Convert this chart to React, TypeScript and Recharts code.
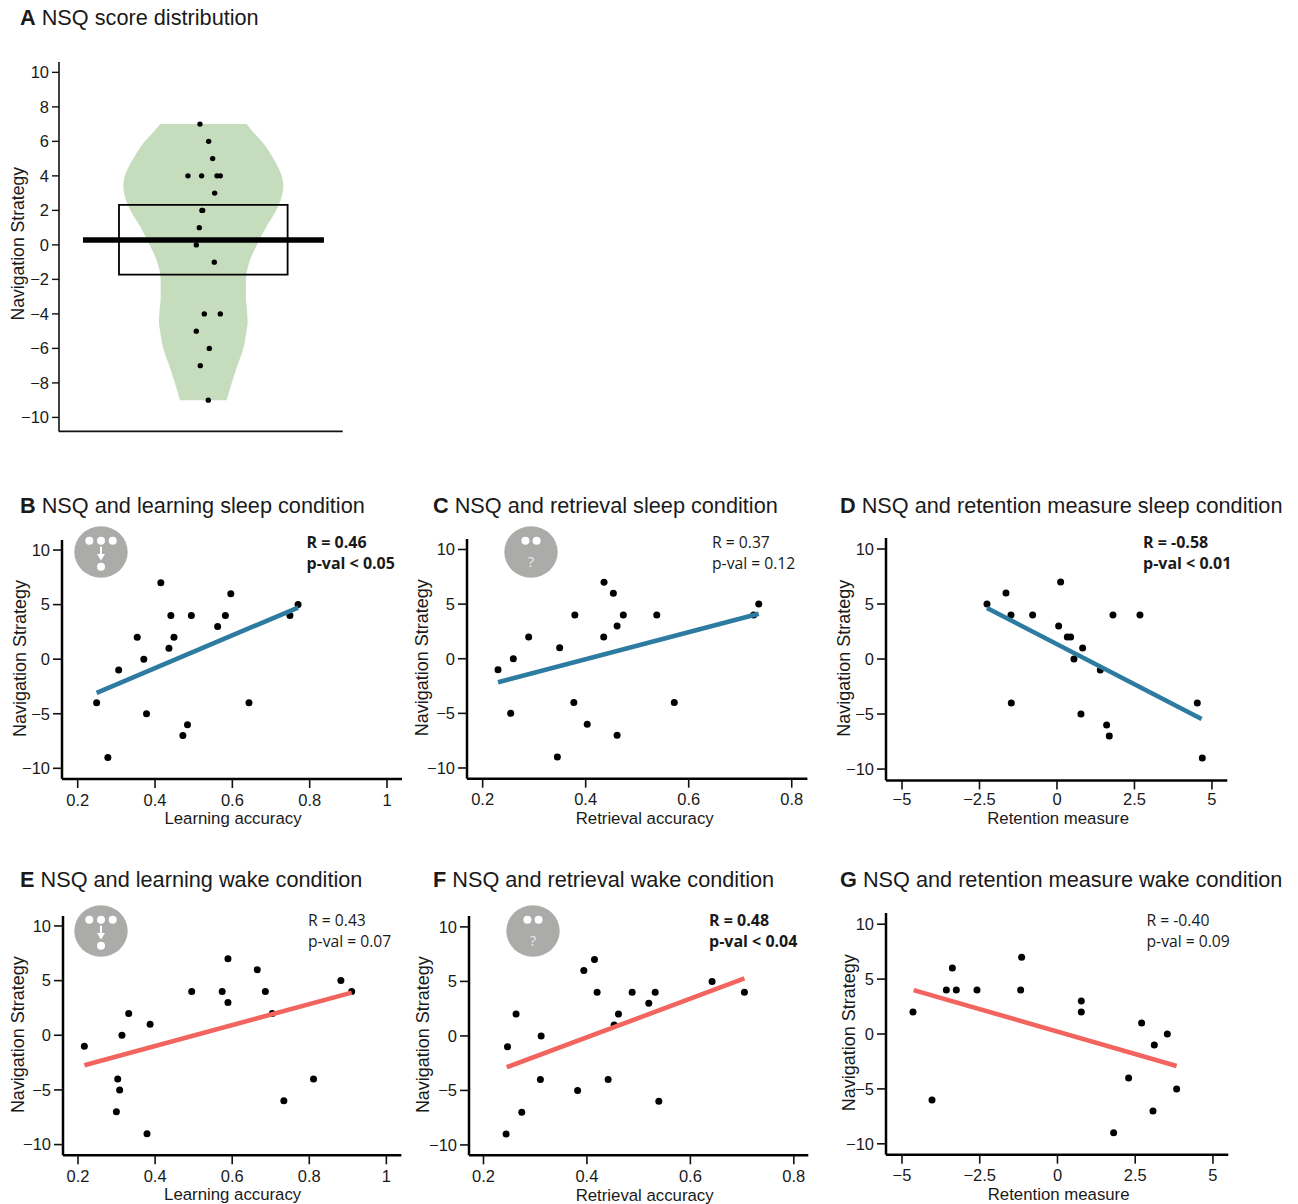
import React from "react";
import {
  ComposedChart,
  ScatterChart,
  Area,
  Scatter,
  XAxis,
  YAxis,
  ReferenceArea,
  ReferenceLine,
} from "recharts";

// panel A: violin outline, half width read at each score
const violinY = [7, 6.5, 6, 5, 4, 3.4, 3, 2, 1, 0, -1, -2, -3, -4, -4.5, -5, -6, -7, -8, -9];
const violinHalf = [0.54, 0.63, 0.73, 0.875, 0.98, 1.0, 0.99, 0.91, 0.78, 0.67, 0.575, 0.533, 0.533, 0.55, 0.554, 0.54, 0.5, 0.425, 0.355, 0.29];
const jitterX = [-0.042, 0.067, 0.117, -0.192, -0.021, 0.171, 0.2125, 0.142, -0.017, -0.008, -0.05, -0.0875, 0.1375, 0.0125, 0.2125, -0.0875, 0.075, -0.0375, 0.0625];
const jitterY = [7, 6, 5, 4, 4, 4, 4, 3, 2, 2, 1, 0, -1, -4, -4, -5, -6, -7, -9];
const boxX = [-1.054, 1.054];
const boxY = [-1.72, 2.32];
const meanX = [-1.504, 1.508];
const meanY = 0.29;

// correlation panels
const learnSleepX = [0.249, 0.278, 0.306, 0.354, 0.371, 0.378, 0.415, 0.436, 0.441, 0.449, 0.472, 0.484, 0.494, 0.562, 0.582, 0.596, 0.643, 0.749, 0.77];
const learnSleepY = [-4, -9, -1, 2, 0, -5, 7, 1, 4, 2, -7, -6, 4, 3, 4, 6, -4, 4, 5];
const learnSleepFitX = [0.249, 0.77];
const learnSleepFitY = [-3.08, 4.73];

const retrSleepX = [0.2298, 0.2595, 0.2544, 0.2893, 0.345, 0.3495, 0.377, 0.379, 0.403, 0.435, 0.4356, 0.4537, 0.461, 0.461, 0.473, 0.538, 0.572, 0.726, 0.736];
const retrSleepY = [-1, 0, -5, 2, -9, 1, -4, 4, -6, 2, 7, 6, 3, -7, 4, 4, -4, 4, 5];
const retrSleepFitX = [0.2298, 0.736];
const retrSleepFitY = [-2.16, 4.12];

const retenSleepX = [-2.258, -1.645, -1.484, -1.473, -0.785, 0.054, 0.118, 0.333, 0.441, 0.548, 0.774, 0.828, 1.398, 1.602, 1.688, 1.806, 2.677, 4.527, 4.688];
const retenSleepY = [5, 6, 4, -4, 4, 3, 7, 2, 2, 0, -5, 1, -1, -6, -7, 4, 4, -4, -9];
const retenSleepFitX = [-2.258, 4.667];
const retenSleepFitY = [4.64, -5.45];

const learnWakeX = [0.2164, 0.2995, 0.303, 0.308, 0.314, 0.3315, 0.379, 0.387, 0.495, 0.574, 0.589, 0.589, 0.665, 0.686, 0.704, 0.734, 0.811, 0.882, 0.91];
const learnWakeY = [-1, -7, -4, -5, 0, 2, -9, 1, 4, 4, 3, 7, 6, 4, 2, -6, -4, 5, 4];
const learnWakeFitX = [0.2164, 0.91];
const learnWakeFitY = [-2.74, 3.9];

const retrWakeX = [0.2438, 0.2464, 0.263, 0.274, 0.31, 0.3115, 0.382, 0.394, 0.4146, 0.4197, 0.441, 0.4526, 0.461, 0.4874, 0.5196, 0.532, 0.539, 0.642, 0.7045];
const retrWakeY = [-9, -1, 2, -7, -4, 0, -5, 6, 7, 4, -4, 1, 2, 4, 3, 4, -6, 5, 4];
const retrWakeFitX = [0.245, 0.7045];
const retrWakeFitY = [-2.87, 5.27];

const retenWakeX = [-4.646, -4.035, -3.574, -3.381, -3.253, -2.588, -1.184, -1.152, 0.766, 0.766, 1.806, 2.288, 2.706, 3.071, 3.114, 3.532, 3.832];
const retenWakeY = [2, -6, 4, 6, 4, 4, 4, 7, 3, 2, -9, -4, 1, -7, -1, 0, -5];
const retenWakeFitX = [-4.625, 3.832];
const retenWakeFitY = [4.0, -2.91];

const scoreTicksA = [-10, -8, -6, -4, -2, 0, 2, 4, 6, 8, 10];
const scoreTicks = [-10, -5, 0, 5, 10];
const learnTicks = [0.2, 0.4, 0.6, 0.8, 1];
const retrTicks = [0.2, 0.4, 0.6, 0.8];
const retenTicks = [-5, -2.5, 0, 2.5, 5];

const SANS = "'Liberation Sans', Arial, sans-serif";
const STAT_FONT = "'Open Sans', sans-serif";
const BLUE = "#2d7ba0";
const RED = "#f2655f";
const GREEN = "#c5ddbd";
const GREY = "#ababa9";

const zip = (xs: number[], ys: number[]) => xs.map((x, i) => ({ x, y: ys[i] }));
const minus = (v: number) => String(v).replace("-", "\u2212");

const violinData = violinY.map((y, i) => ({ y, range: [-violinHalf[i], violinHalf[i]] }));

const panels = [
  {
    key: "B", title: "NSQ and learning sleep condition", titleX: 20, titleY: 506,
    left: 62, right: 402, top: 540, bottom: 779, labelX: 19.5, xLabelDx: 1, xLabelDy: 14, tickGap: 6,
    xDomain: [0.1594, 1.0388], yDomain: [-10.98, 10.92], xTicks: learnTicks,
    xLabel: "Learning accuracy", pts: zip(learnSleepX, learnSleepY), fit: zip(learnSleepFitX, learnSleepFitY),
    color: BLUE, r: "R = 0.46", p: "p-val < 0.05", bold: true, statX: 306.5, statY: 541.5,
    icon: "arrow", iconX: 100.7, iconY: 552.3,
  },
  {
    key: "C", title: "NSQ and retrieval sleep condition", titleX: 433, titleY: 506,
    left: 467.3, right: 807.7, top: 539.3, bottom: 779, labelX: 421.5, xLabelDx: 7.5, xLabelDy: 14, tickGap: 6,
    xDomain: [0.1696, 0.8304], yDomain: [-10.98, 10.96], xTicks: retrTicks,
    xLabel: "Retrieval accuracy", pts: zip(retrSleepX, retrSleepY), fit: zip(retrSleepFitX, retrSleepFitY),
    color: BLUE, r: "R = 0.37", p: "p-val = 0.12", bold: false, statX: 712, statY: 541.5,
    icon: "question", iconX: 530.7, iconY: 552.3,
  },
  {
    key: "D", title: "NSQ and retention measure sleep condition", titleX: 840, titleY: 506,
    left: 886, right: 1227.3, top: 538.3, bottom: 780.7, labelX: 844, xLabelDx: 1.5, xLabelDy: 12.5, tickGap: 4,
    xDomain: [-5.516, 5.495], yDomain: [-11.03, 11.0], xTicks: retenTicks,
    xLabel: "Retention measure", pts: zip(retenSleepX, retenSleepY), fit: zip(retenSleepFitX, retenSleepFitY),
    color: BLUE, r: "R = -0.58", p: "p-val < 0.01", bold: true, statX: 1143, statY: 541.5,
  },
  {
    key: "E", title: "NSQ and learning wake condition", titleX: 20, titleY: 880,
    left: 63.3, right: 401.7, top: 915.7, bottom: 1155, labelX: 18, xLabelDx: 0.5, xLabelDy: 14, tickGap: 6,
    xDomain: [0.161, 1.039], yDomain: [-10.98, 10.91], xTicks: learnTicks,
    xLabel: "Learning accuracy", pts: zip(learnWakeX, learnWakeY), fit: zip(learnWakeFitX, learnWakeFitY),
    color: RED, r: "R = 0.43", p: "p-val = 0.07", bold: false, statX: 308, statY: 920,
    icon: "arrow", iconX: 100.7, iconY: 930.7,
  },
  {
    key: "F", title: "NSQ and retrieval wake condition", titleX: 433, titleY: 880,
    left: 469, right: 808.3, top: 915.7, bottom: 1155, labelX: 423, xLabelDx: 6, xLabelDy: 15, tickGap: 6,
    xDomain: [0.172, 0.828], yDomain: [-10.95, 11.0], xTicks: retrTicks,
    xLabel: "Retrieval accuracy", pts: zip(retrWakeX, retrWakeY), fit: zip(retrWakeFitX, retrWakeFitY),
    color: RED, r: "R = 0.48", p: "p-val < 0.04", bold: true, statX: 709, statY: 920,
    icon: "question", iconX: 533.3, iconY: 930.7,
  },
  {
    key: "G", title: "NSQ and retention measure wake condition", titleX: 840, titleY: 880,
    left: 886, right: 1228.3, top: 913.3, bottom: 1155, labelX: 849, xLabelDx: 1.5, xLabelDy: 14, tickGap: 6,
    xDomain: [-5.514, 5.493], yDomain: [-10.99, 11.02], xTicks: retenTicks,
    xLabel: "Retention measure", pts: zip(retenWakeX, retenWakeY), fit: zip(retenWakeFitX, retenWakeFitY),
    color: RED, r: "R = -0.40", p: "p-val = 0.09", bold: false, statX: 1146.5, statY: 920,
  },
];

function Title({ letter, text, x, y }: { letter: string; text: string; x: number; y: number }) {
  return (
    <div
      style={{
        position: "absolute",
        left: x,
        top: y - 14,
        height: 28,
        lineHeight: "28px",
        fontFamily: SANS,
        fontSize: 21.7,
        color: "#1a1a1a",
        whiteSpace: "nowrap",
      }}
    >
      <b>{letter}</b> {text}
    </div>
  );
}

function Stat({ r, p, bold, x, y }: { r: string; p: string; bold: boolean; x: number; y: number }) {
  const line = {
    position: "absolute" as const,
    left: x,
    height: 20,
    lineHeight: "20px",
    fontFamily: STAT_FONT,
    fontSize: bold ? 16 : 15.7,
    fontWeight: bold ? 700 : 400,
    color: "#1a1a1a",
    whiteSpace: "nowrap" as const,
  };
  return (
    <>
      <div style={{ ...line, top: y - 10 }}>{r}</div>
      <div style={{ ...line, top: y + 11 }}>{p}</div>
    </>
  );
}

function Icon({ kind, x, y }: { kind: string; x: number; y: number }) {
  return (
    <svg
      width={60}
      height={60}
      viewBox="-30 -30 60 60"
      style={{ position: "absolute", left: x - 30, top: y - 30 }}
    >
      <ellipse cx={0} cy={0} rx={26.7} ry={25.7} fill={GREY} />
      {kind === "arrow" ? (
        <g fill="#fff">
          <circle cx={-11.7} cy={-11.3} r={4} />
          <circle cx={0} cy={-11.3} r={4} />
          <circle cx={11.7} cy={-11.3} r={4} />
          <circle cx={0} cy={14.7} r={4} />
          <rect x={-1} y={-5.3} width={2} height={8} />
          <path d="M-4 2 L4 2 L0 8.4 Z" />
        </g>
      ) : (
        <g fill="#fff">
          <circle cx={-5.6} cy={-11.3} r={4} />
          <circle cx={5.6} cy={-11.3} r={4} />
          <text
            x={0}
            y={15}
            textAnchor="middle"
            fontFamily={STAT_FONT}
            fontSize={15}
            fill="#e8e8e8"
          >
            ?
          </text>
        </g>
      )}
    </svg>
  );
}

function ViolinPanel() {
  const axisLeft = 59;
  const axisRight = 342.7;
  const axisTop = 62.3;
  const axisBottom = 431.7;
  return (
    <div style={{ position: "absolute", left: axisLeft - 55, top: axisTop - 10 }}>
      <ComposedChart
        layout="vertical"
        width={axisRight - axisLeft + 65}
        height={axisBottom - axisTop + 30}
        margin={{ top: 10, right: 10, bottom: 0, left: 0 }}
      >
        <XAxis
          type="number"
          dataKey="x"
          domain={[-1.804, 1.7425]}
          allowDataOverflow
          ticks={[]}
          tick={false}
          tickLine={false}
          height={20}
          axisLine={{ stroke: "#111", strokeWidth: 1.6 }}
        />
        <YAxis
          type="number"
          dataKey="y"
          reversed
          domain={[-10.81, 10.6]}
          allowDataOverflow
          ticks={scoreTicksA}
          interval={0}
          width={55}
          tickSize={7}
          tickMargin={3}
          tickFormatter={minus}
          tick={{ fontFamily: SANS, fontSize: 16.5, fill: "#1a1a1a" }}
          tickLine={{ stroke: "#111", strokeWidth: 1.4 }}
          axisLine={{ stroke: "#111", strokeWidth: 1.6 }}
          label={{
            value: "Navigation Strategy",
            angle: -90,
            position: "center",
            dx: 18 - (axisLeft - 55) - 27.5,
            dy: -3,
            style: { fontFamily: SANS, fontSize: 17.6, fill: "#1a1a1a" },
          }}
        />
        <Area
          data={violinData}
          dataKey="range"
          type="monotone"
          stroke="none"
          fill={GREEN}
          fillOpacity={1}
          dot={false}
          activeDot={false}
          isAnimationActive={false}
        />
        <Scatter
          data={zip(jitterX, jitterY)}
          fill="#000"
          shape={(p: any) => <circle cx={p.cx} cy={p.cy} r={2.7} fill="#000" />}
          isAnimationActive={false}
        />
        <ReferenceArea
          x1={boxX[0]}
          x2={boxX[1]}
          y1={boxY[0]}
          y2={boxY[1]}
          fill="none"
          fillOpacity={0}
          stroke="#000"
          strokeWidth={1.8}
        />
        <ReferenceLine
          segment={[
            { x: meanX[0], y: meanY },
            { x: meanX[1], y: meanY },
          ]}
          stroke="#000"
          strokeWidth={5.5}
        />
      </ComposedChart>
    </div>
  );
}

function CorrPanel({ cfg }: { cfg: (typeof panels)[number] }) {
  const boxLeft = cfg.left - 60;
  return (
    <div style={{ position: "absolute", left: boxLeft, top: cfg.top - 10 }}>
      <ScatterChart
        width={cfg.right - cfg.left + 70}
        height={cfg.bottom - cfg.top + 60}
        margin={{ top: 10, right: 10, bottom: 0, left: 0 }}
      >
        <XAxis
          type="number"
          dataKey="x"
          domain={cfg.xDomain}
          allowDataOverflow
          ticks={cfg.xTicks}
          interval={0}
          height={50}
          tickSize={9}
          tickMargin={cfg.tickGap}
          tickFormatter={minus}
          tick={{ fontFamily: SANS, fontSize: 16.5, fill: "#1a1a1a" }}
          tickLine={{ stroke: "#111", strokeWidth: 1.6 }}
          axisLine={{ stroke: "#000", strokeWidth: 2.5 }}
          label={{
            value: cfg.xLabel,
            position: "center",
            dx: cfg.xLabelDx,
            dy: cfg.xLabelDy,
            style: { fontFamily: SANS, fontSize: 16.8, fill: "#1a1a1a" },
          }}
        />
        <YAxis
          type="number"
          dataKey="y"
          domain={cfg.yDomain}
          allowDataOverflow
          ticks={scoreTicks}
          interval={0}
          width={60}
          tickSize={9}
          tickMargin={3}
          tickFormatter={minus}
          tick={{ fontFamily: SANS, fontSize: 16.5, fill: "#1a1a1a" }}
          tickLine={{ stroke: "#111", strokeWidth: 1.6 }}
          axisLine={{ stroke: "#000", strokeWidth: 2.5 }}
          label={{
            value: "Navigation Strategy",
            angle: -90,
            position: "center",
            dx: cfg.labelX - boxLeft - 30,
            dy: -1,
            style: { fontFamily: SANS, fontSize: 18, fill: "#1a1a1a" },
          }}
        />
        <Scatter
          data={cfg.pts}
          shape={(p: any) => <circle cx={p.cx} cy={p.cy} r={3.5} fill="#000" />}
          isAnimationActive={false}
        />
        <Scatter
          data={cfg.fit}
          line={{ stroke: cfg.color, strokeWidth: 4.6 }}
          shape={() => null}
          isAnimationActive={false}
        />
      </ScatterChart>
    </div>
  );
}

export default function App() {
  return (
    <div style={{ position: "absolute", left: 0, top: 0, width: 1298, height: 1204, background: "#fff" }}>
      <Title letter="A" text="NSQ score distribution" x={20} y={18} />
      <ViolinPanel />
      {panels.map((cfg) => (
        <React.Fragment key={cfg.key}>
          <Title letter={cfg.key} text={cfg.title} x={cfg.titleX} y={cfg.titleY} />
          <CorrPanel cfg={cfg} />
          <Stat r={cfg.r} p={cfg.p} bold={cfg.bold} x={cfg.statX} y={cfg.statY} />
          {cfg.icon ? <Icon kind={cfg.icon} x={cfg.iconX as number} y={cfg.iconY as number} /> : null}
        </React.Fragment>
      ))}
    </div>
  );
}
